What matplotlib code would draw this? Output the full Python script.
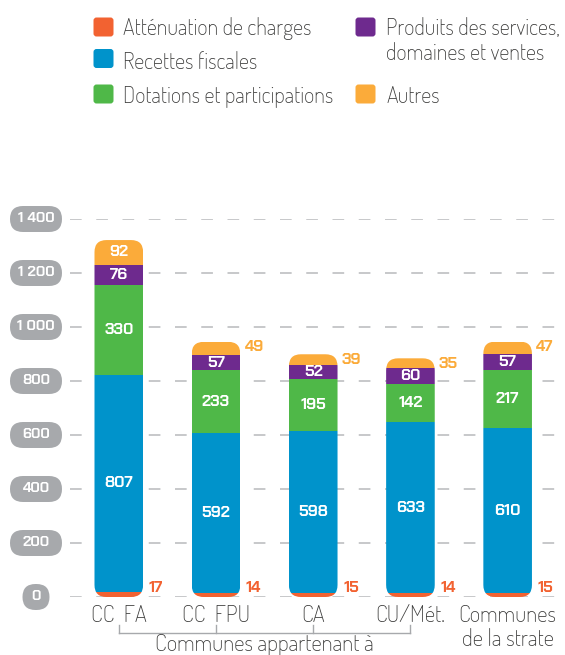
import matplotlib
matplotlib.use("Agg")
import matplotlib.pyplot as plt
from matplotlib.patches import FancyBboxPatch
import numpy as np

# données
categories = ["CC  FA", "CC  FPU", "CA", "CU/Mét.", "Communes"]
attenuation = [17, 14, 15, 14, 15]
recettes = [807, 592, 598, 633, 610]
dotations = [330, 233, 195, 142, 217]
produits = [76, 57, 52, 60, 57]
autres = [92, 49, 39, 35, 47]
yticks = [0, 200, 400, 600, 800, 1000, 1200, 1400]
ytick_labels = ["0", "200", "400", "600", "800", "1 000", "1 200", "1 400"]

C_ATT = "#F26231"
C_REC = "#0093CB"
C_DOT = "#4FB848"
C_PRO = "#6E2A8E"
C_AUT = "#FBAB3A"
GREY = "#A7A9AC"
TXT = "#3C3C3B"

LBL_FONT = ["Dosis", "DejaVu Sans"]
NUM_FONT = ["Chakra Petch", "DejaVu Sans"]

W, H = 565, 655
fig = plt.figure(figsize=(W / 100, H / 100), dpi=100)

# axe principal : 0 -> y=597px, 1400 -> y=219px
ax = fig.add_axes([70 / W, (H - 597) / H, 495 / W, 378 / H])
ax.set_xlim(-0.502, 4.59)
ax.set_ylim(0, 1400)
for s in ax.spines.values():
    s.set_visible(False)
ax.set_xticks([])
ax.set_yticks(yticks)
ax.tick_params(left=False, labelleft=False)
ax.yaxis.grid(True, color="#C7C8CA", lw=1.4, ls=(0, (6, 7.5)))
ax.set_axisbelow(True)
ax.patch.set_alpha(0)

x = np.arange(len(categories))
width = 0.5

# pixels par unité
p0 = ax.transData.transform((0, 0))
p1 = ax.transData.transform((1, 1))
px_x = p1[0] - p0[0]
px_y = p1[1] - p0[1]
r = 12 / px_x
aspect = px_x / px_y

series = [
    (attenuation, C_ATT),
    (recettes, C_REC),
    (dotations, C_DOT),
    (produits, C_PRO),
    (autres, C_AUT),
]
totals = np.sum([s[0] for s in series], axis=0)

# contour arrondi de chaque barre, utilisé comme masque
clips = []
for i in range(len(x)):
    clip = FancyBboxPatch((x[i] - width / 2, 0), width, totals[i],
                          boxstyle="round,pad=0,rounding_size=%f" % r,
                          mutation_aspect=aspect, transform=ax.transData)
    clips.append(clip)

bottom = np.zeros(len(x))
for vals, col in series:
    bars = ax.bar(x, vals, width, bottom=bottom, color=col, linewidth=0, zorder=2)
    for b, c in zip(bars, clips):
        b.set_clip_path(c)
    bottom = bottom + np.array(vals)

# étiquettes de valeurs
num_kw = dict(fontsize=11.5, fontweight="bold", family=NUM_FONT, zorder=4)
bottom = np.array(attenuation, dtype=float)
for vals in [recettes, dotations, produits]:
    for i, v in enumerate(vals):
        ax.text(x[i], bottom[i] + v / 2, str(v), ha="center", va="center",
                color="white", **num_kw)
    bottom = bottom + np.array(vals)

for i, v in enumerate(autres):
    if i == 0:
        ax.text(x[i], bottom[i] + v / 2, str(v), ha="center", va="center",
                color="white", **num_kw)
    else:
        ax.annotate(str(v), xy=(x[i] + width / 2, totals[i] - 20), xytext=(3, 0),
                    textcoords="offset points", ha="left", va="center",
                    color=C_AUT, annotation_clip=False, **num_kw)

for i, v in enumerate(attenuation):
    ax.annotate(str(v), xy=(x[i] + width / 2, 35), xytext=(4, 0),
                textcoords="offset points", ha="left", va="center",
                color=C_ATT, annotation_clip=False, **num_kw)

# libellés de l'axe x
lbl_kw = dict(fontsize=16.5, family=LBL_FONT, color=TXT)
y_base = -(621.7 - 597) / px_y
for i, c in enumerate(categories):
    ax.text(x[i], y_base, c, ha="center", va="baseline", clip_on=False, **lbl_kw)
ax.text(x[4], -(646 - 597) / px_y, "de la strate", ha="center", va="baseline",
        clip_on=False, **lbl_kw)

# accolade "Communes appartenant à"
y_line = -(632.7 - 597) / px_y
y_tick = -(625 - 597) / px_y
ax.plot([x[0], x[3]], [y_line, y_line], color=GREY, lw=1, clip_on=False)
for i in range(4):
    ax.plot([x[i], x[i]], [y_line, y_tick], color=GREY, lw=1, clip_on=False)
ax.text((x[0] + x[3]) / 2, -(651.5 - 597) / px_y, "Communes appartenant à",
        ha="center", va="baseline", clip_on=False, **lbl_kw)

# calque en pixels pour légende et pastilles de l'axe y
ov = fig.add_axes([0, 0, 1, 1])
ov.set_xlim(0, W)
ov.set_ylim(H, 0)
ov.axis("off")

for v, lab in zip(yticks, ytick_labels):
    yc = H - ax.transData.transform((0, v))[1]
    w = 27 if v == 0 else 52
    ov.add_patch(FancyBboxPatch((36 - w / 2, yc - 13), w, 26,
                                boxstyle="round,pad=0,rounding_size=13",
                                fc=GREY, ec="none"))
    ov.text(36, yc, lab, ha="center", va="center", color="white",
            fontsize=10.5, fontweight="bold", family=NUM_FONT)

legend_items = [
    (93.5, 17.5, C_ATT, 123, 34.7, "Atténuation de charges"),
    (93.5, 49.0, C_REC, 123, 68.7, "Recettes fiscales"),
    (93.5, 84.5, C_DOT, 123, 103.0, "Dotations et participations"),
    (355.5, 17.5, C_PRO, 386, 34.7, "Produits des services,"),
    (355.5, 84.5, C_AUT, 386, 103.0, "Autres"),
]
leg_kw = dict(fontsize=16, family=LBL_FONT, color=TXT)
for sx, sy, col, tx, ty, lab in legend_items:
    ov.add_patch(FancyBboxPatch((sx, sy), 20, 19,
                                boxstyle="round,pad=0,rounding_size=3",
                                fc=col, ec="none"))
    ov.text(tx, ty, lab, ha="left", va="baseline", **leg_kw)
ov.text(386, 60.5, "domaines et ventes", ha="left", va="baseline", **leg_kw)

fig.savefig("out.png", dpi=100)
